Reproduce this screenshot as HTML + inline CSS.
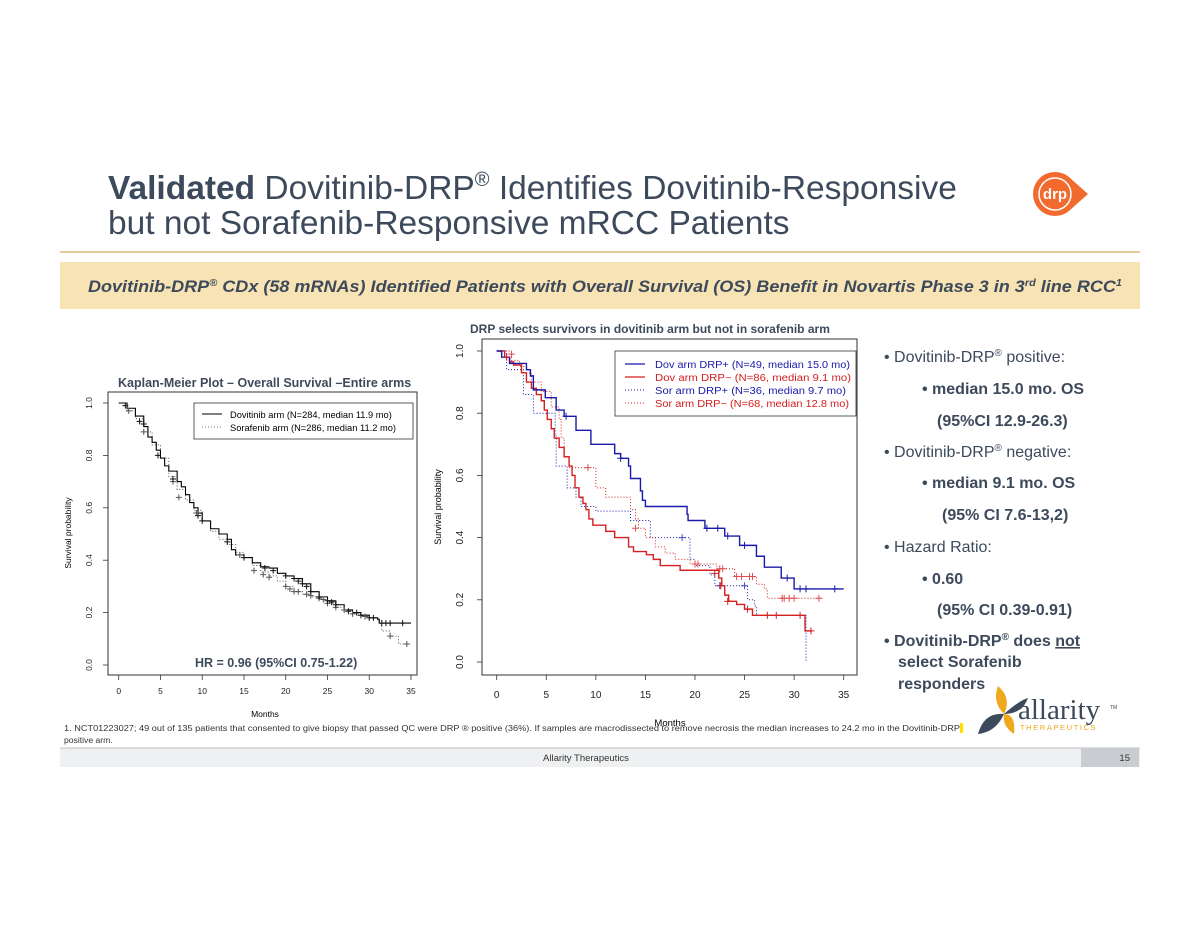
<!DOCTYPE html>
<html><head><meta charset="utf-8">
<style>
html,body{margin:0;padding:0;background:#fff;}
svg{display:block;font-family:"Liberation Sans",Arial,sans-serif;}
</style></head>
<body>
<svg id="page" width="1200" height="927" viewBox="0 0 1200 927" xmlns="http://www.w3.org/2000/svg">
  <g fill="#3d4a5c" font-size="33.5">
    <text x="108" y="199"><tspan font-weight="bold">Validated</tspan> Dovitinib-DRP<tspan font-size="20" dy="-13">®</tspan><tspan dy="13"> Identifies Dovitinib-Responsive</tspan></text>
    <text x="108" y="234">but not Sorafenib-Responsive mRCC Patients</text>
  </g>
  <g>
    <circle cx="1055" cy="194" r="22" fill="#f26a2e"/>
    <path d="M1070 178 L1088 194 L1070 210 Z" fill="#f26a2e"/>
    <circle cx="1055" cy="194" r="16" fill="none" stroke="#fff" stroke-width="1.5"/>
    <text x="1055" y="199" font-size="15" fill="#fff" text-anchor="middle" font-weight="bold">drp</text>
  </g>
  <line x1="60" y1="252" x2="1140" y2="252" stroke="#d9b87a" stroke-width="1.5"/>
  <rect x="60" y="262" width="1080" height="47" fill="#f8e3b5"/>
  <text x="88" y="292" font-size="16.5" font-weight="bold" font-style="italic" fill="#3d4a5c" textLength="1034" lengthAdjust="spacingAndGlyphs">Dovitinib-DRP<tspan font-size="10" dy="-6">®</tspan><tspan dy="6"> CDx (58 mRNAs) Identified Patients with Overall Survival (OS) Benefit in Novartis Phase 3 in 3</tspan><tspan font-size="10" dy="-6">rd</tspan><tspan dy="6"> line RCC</tspan><tspan font-size="10" dy="-6">1</tspan></text>

  <!-- Left chart -->
  <g id="left">
    <text x="118" y="387" font-size="12.5" font-weight="bold" fill="#3d4a5c">Kaplan-Meier Plot – Overall Survival –Entire arms</text>
    <rect x="108" y="392" width="309" height="283" fill="none" stroke="#333" stroke-width="1"/>
    <text transform="translate(71,533) rotate(-90)" font-size="8.5" text-anchor="middle">Survival probability</text>
    <text x="265" y="717" font-size="8.5" text-anchor="middle">Months</text>
    <g id="left-axes"></g>
    <g id="left-series"></g>
    <g>
      <rect x="194" y="403" width="219" height="36" fill="#fff" stroke="#333" stroke-width="0.8"/>
      <line x1="202" y1="414" x2="222" y2="414" stroke="#000"/>
      <line x1="202" y1="427" x2="222" y2="427" stroke="#777" stroke-dasharray="1,2"/>
      <text x="230" y="418" font-size="9.3">Dovitinib arm   (N=284, median 11.9 mo)</text>
      <text x="230" y="431" font-size="9.3">Sorafenib arm (N=286, median 11.2 mo)</text>
    </g>
    <text x="195" y="667" font-size="12.5" font-weight="bold" fill="#3d4a5c">HR = 0.96 (95%CI 0.75-1.22)</text>
  </g>

  <!-- Right chart -->
  <g id="right">
    <text x="470" y="333" font-size="12" font-weight="bold" fill="#3d4a5c">DRP selects survivors in dovitinib arm but not in sorafenib arm</text>
    <rect x="482" y="339" width="375" height="336" fill="none" stroke="#333" stroke-width="1"/>
    <text transform="translate(441,507) rotate(-90)" font-size="9" text-anchor="middle">Survival probability</text>
    <text x="670" y="726" font-size="9.5" text-anchor="middle">Months</text>
    <g id="right-axes"></g>
    <g id="right-series"></g>
    <g>
      <rect x="615" y="351" width="241" height="65" fill="#fff" stroke="#333" stroke-width="0.8"/>
      <line x1="625" y1="364" x2="645" y2="364" stroke="#1a1aaa" stroke-width="1.3"/>
      <line x1="625" y1="377" x2="645" y2="377" stroke="#d42020" stroke-width="1.3"/>
      <line x1="625" y1="390" x2="645" y2="390" stroke="#1a1aaa" stroke-dasharray="1,2"/>
      <line x1="625" y1="403" x2="645" y2="403" stroke="#d42020" stroke-dasharray="1,2"/>
      <text x="655" y="368" font-size="10" fill="#1a1aaa" textLength="195" lengthAdjust="spacingAndGlyphs">Dov arm DRP+ (N=49, median 15.0 mo)</text>
      <text x="655" y="381" font-size="10" fill="#d42020" textLength="196" lengthAdjust="spacingAndGlyphs">Dov arm DRP−  (N=86, median   9.1 mo)</text>
      <text x="655" y="394" font-size="10" fill="#1a1aaa" textLength="191" lengthAdjust="spacingAndGlyphs">Sor arm DRP+ (N=36, median   9.7 mo)</text>
      <text x="655" y="407" font-size="10" fill="#d42020" textLength="194" lengthAdjust="spacingAndGlyphs">Sor arm DRP−  (N=68, median 12.8 mo)</text>
    </g>
  </g>

  <g fill="#3d4a5c" font-size="16">
    <text x="884" y="362">• Dovitinib-DRP<tspan font-size="10" dy="-6">®</tspan><tspan dy="6"> positive:</tspan></text>
    <text x="922" y="394" font-weight="bold">• median 15.0 mo. OS</text>
    <text x="937" y="426" font-weight="bold">(95%CI 12.9-26.3)</text>
    <text x="884" y="457">• Dovitinib-DRP<tspan font-size="10" dy="-6">®</tspan><tspan dy="6"> negative:</tspan></text>
    <text x="922" y="488" font-weight="bold">•  median 9.1 mo. OS</text>
    <text x="942" y="520" font-weight="bold">(95% CI 7.6-13,2)</text>
    <text x="884" y="552">• Hazard Ratio:</text>
    <text x="922" y="584" font-weight="bold">• 0.60</text>
    <text x="937" y="615" font-weight="bold">(95% CI 0.39-0.91)</text>
    <text x="884" y="646" font-weight="bold">• Dovitinib-DRP<tspan font-size="10" dy="-6">®</tspan><tspan dy="6"> does </tspan><tspan text-decoration="underline">not</tspan></text>
    <text x="898" y="667" font-weight="bold">select Sorafenib</text>
    <text x="898" y="689" font-weight="bold">responders</text>
  </g>

  <g>
    <path d="M998 686 Q1012 698 1004 714 Q992 702 998 686Z" fill="#f0a81c"/>
    <path d="M1004 714 Q1016 714 1014 734 Q1002 726 1004 714Z" fill="#f0a81c"/>
    <path d="M1004 714 Q984 712 978 734 Q996 732 1004 714Z" fill="#3d4a5c"/>
    <path d="M1004 714 Q1020 700 1028 698 Q1022 714 1004 714Z" fill="#3d4a5c"/>
    <text x="1018" y="719" font-family="Liberation Serif,serif" font-size="29" fill="#3d4a5c">allarity</text>
    <text x="1110" y="709" font-size="5" fill="#3d4a5c">TM</text>
    <text x="1020" y="730" font-size="7.5" fill="#f0a81c" letter-spacing="1.6">THERAPEUTICS</text>
  </g>

  <g font-size="8.6" fill="#333">
    <text x="64" y="731" textLength="896" lengthAdjust="spacingAndGlyphs">1. NCT01223027; 49 out of 135 patients that consented to give biopsy that passed QC were DRP ® positive (36%). If samples are macrodissected to remove necrosis the median increases to 24.2 mo in the Dovitinib-DRP</text>
    <rect x="960" y="723" width="3" height="10" fill="#ffe000"/>
    <text x="64" y="743">positive arm.</text>
  </g>
  <g>
    <rect x="60" y="748" width="1080" height="19" fill="#eef0f2"/>
    <line x1="60" y1="748" x2="1140" y2="748" stroke="#888" stroke-width="0.6"/>
    <rect x="1081" y="748" width="58" height="19" fill="#c9cdd1"/>
    <text x="586" y="761" font-size="9.5" fill="#333" text-anchor="middle">Allarity Therapeutics</text>
    <text x="1130" y="761" font-size="9.5" fill="#333" text-anchor="end">15</text>
  </g>
</svg>
<script>
// ----- Left chart data -----
const leftXTicks = [0,5,10,15,20,25,30,35];
const leftYTicks = [0.0,0.2,0.4,0.6,0.8,1.0];
const dovTimes = [0,0.5,1,2,3,3.5,4,4.5,5,5.5,6,7,7.5,8,8.5,9,9.5,10,11,12,13,13.5,14,15,16,17,18,19,20,21,22,23,24,25,26,27,28,29,30,31,31.2];
const dovSurv  = [1.0,1.0,0.98,0.95,0.91,0.87,0.85,0.82,0.79,0.76,0.74,0.70,0.68,0.65,0.62,0.60,0.58,0.55,0.52,0.50,0.48,0.44,0.42,0.41,0.39,0.375,0.37,0.35,0.34,0.33,0.31,0.28,0.26,0.245,0.23,0.21,0.20,0.19,0.18,0.175,0.16];
const dovEnd = 35;
const sorTimes = [0,1,2,3,4,5,6,7,8,9,10,11,12,13,14,15,16,17,18,19,20,21,22,23,24,25,26,27,28,29,30,31,31.5,32.5,33.5];
const sorSurv  = [1.0,0.97,0.94,0.89,0.84,0.79,0.72,0.67,0.63,0.59,0.55,0.51,0.48,0.46,0.43,0.41,0.38,0.355,0.34,0.32,0.30,0.28,0.27,0.26,0.25,0.235,0.22,0.21,0.195,0.19,0.18,0.17,0.13,0.11,0.08];
const sorEnd = 35;
const dovCensT = [0.8,2.5,3,4.7,6.5,9.5,10,13,15,17.5,18.5,20,21,21.5,22,22.5,23,24,25,25.5,26,27.5,28.5,29,30,30.5,31.5,32,32.5,34];
const dovCensS = [0.99,0.93,0.92,0.80,0.71,0.57,0.55,0.47,0.41,0.37,0.36,0.34,0.33,0.32,0.31,0.30,0.28,0.26,0.245,0.24,0.23,0.205,0.20,0.19,0.18,0.18,0.16,0.16,0.16,0.16];
const sorCensT = [1.2,3,6.5,7.2,9.3,14.5,16.2,17.3,18,20,20.5,21,21.5,22.5,23,24,24.5,25,26,27,28,29.5,32.5,34.5];
const sorCensS = [0.97,0.89,0.70,0.64,0.58,0.42,0.36,0.345,0.335,0.30,0.29,0.28,0.28,0.27,0.265,0.255,0.25,0.235,0.22,0.21,0.195,0.185,0.11,0.08];

// ----- Right chart data -----
const rightXTicks = [0,5,10,15,20,25,30,35];
const rightYTicks = [0.0,0.2,0.4,0.6,0.8,1.0];
const dovPosT = [0,0.5,1.3,3.0,3.4,3.7,4.9,6.0,6.8,8.0,9.5,11.9,12.5,13.3,13.5,14.5,14.7,15.0,19.2,19.3,21.0,23.0,24.5,26.2,27.0,28.7,30.0];
const dovPosS = [1.0,0.98,0.96,0.94,0.92,0.875,0.85,0.81,0.79,0.745,0.70,0.67,0.655,0.63,0.59,0.55,0.52,0.50,0.475,0.455,0.43,0.405,0.375,0.34,0.305,0.27,0.235];
const dovPosEnd = 35;
const dovNegT = [0,0.8,1.3,1.7,2.5,3.0,3.5,4.0,4.5,4.8,5.1,5.5,5.8,6.3,6.8,7.3,7.6,7.9,8.3,8.7,9.0,9.3,9.7,11.0,11.9,13.3,13.8,15.1,15.8,16.5,18.5,22.4,22.7,23.0,23.4,24.2,25.0,25.8,31.1];
const dovNegS = [1.0,0.98,0.965,0.955,0.93,0.90,0.88,0.86,0.84,0.81,0.78,0.75,0.72,0.69,0.66,0.63,0.60,0.56,0.53,0.51,0.49,0.46,0.44,0.42,0.40,0.37,0.355,0.345,0.33,0.31,0.295,0.27,0.245,0.215,0.195,0.185,0.17,0.15,0.10];
const dovNegEnd = 31.8;
const sorPosT = [0,1.0,2.7,3.7,5.9,6.0,7.1,8.0,8.5,10.0,13.5,15.5,19.5,20.0,21.5,22.0,25.3,26.0,26.2,31.2];
const sorPosS = [1.0,0.94,0.86,0.80,0.73,0.63,0.56,0.53,0.50,0.485,0.455,0.40,0.33,0.31,0.28,0.245,0.20,0.18,0.15,0.0];
const sorPosEnd = 31.2;
const sorNegT = [0,1.5,2.3,3.0,3.5,4.5,5.5,6.3,6.5,6.8,7.3,10.0,11.0,13.5,14.0,14.3,15.0,16.0,17.0,18.0,19.5,22.2,24.0,26.2,27.0,27.3];
const sorNegS = [1.0,0.97,0.95,0.93,0.90,0.87,0.82,0.78,0.72,0.66,0.625,0.56,0.53,0.49,0.46,0.43,0.40,0.37,0.35,0.33,0.315,0.30,0.275,0.25,0.235,0.205];
const sorNegEnd = 32.7;
const dovPosCensT = [7.0,12.5,21.2,22.3,23.3,25.0,29.3,30.6,31.2,34.1];
const dovPosCensS = [0.79,0.655,0.43,0.43,0.405,0.375,0.27,0.235,0.235,0.235];
const dovNegCensT = [1.0,22.0,22.6,23.3,25.3,27.3,28.2,30.6,31.7];
const dovNegCensS = [0.98,0.285,0.245,0.195,0.17,0.15,0.15,0.15,0.10];
const sorPosCensT = [18.7,22.5,25.0];
const sorPosCensS = [0.40,0.245,0.245];
const sorNegCensT = [1.5,9.2,14.0,20.0,20.3,22.5,22.8,24.2,24.7,25.5,25.8,28.8,29.0,29.5,30.0,32.5];
const sorNegCensS = [0.99,0.625,0.43,0.315,0.315,0.30,0.30,0.275,0.275,0.275,0.275,0.205,0.205,0.205,0.205,0.205];

const NS = 'http://www.w3.org/2000/svg';
function mk(tag, attrs, parent){
  const e = document.createElementNS(NS, tag);
  for (const k in attrs) e.setAttribute(k, attrs[k]);
  parent.appendChild(e);
  return e;
}
function makeScale(d0,d1,r0,r1){ return v => r0 + (v-d0)/(d1-d0)*(r1-r0); }

function drawAxes(g, xs, ys, xTicks, yTicks, x0, y0, fs, xTickY, yLabelX){
  const xl = mk('line',{x1:xs(xTicks[0]),x2:xs(xTicks[xTicks.length-1]),y1:y0,y2:y0,stroke:'#333','stroke-width':0.8},g);
  
  
  xTicks.forEach(t=>{
    const tk = mk('line',{x1:xs(t),x2:xs(t),y1:y0,y2:y0+5,stroke:'#333','stroke-width':0.8},g);
    
    
    const tx = mk('text',{x:xs(t),y:xTickY,'font-size':fs,'text-anchor':'middle',fill:'#222'},g);
    tx.textContent = String(t);
    
    
  });
  const yl = mk('line',{x1:x0,x2:x0,y1:ys(yTicks[0]),y2:ys(yTicks[yTicks.length-1]),stroke:'#333','stroke-width':0.8},g);
  
  
  yTicks.forEach(t=>{
    const tk = mk('line',{x1:x0-5,x2:x0,y1:ys(t),y2:ys(t),stroke:'#333','stroke-width':0.8},g);
    
    
    const tx = mk('text',{x:yLabelX,y:ys(t),'font-size':fs,'text-anchor':'middle',fill:'#222',transform:`rotate(-90 ${yLabelX} ${ys(t)})`},g);
    tx.textContent = t.toFixed(1);
    
    
  });
}
function stepPath(xs, ys, T, S, end){
  let d = `M${xs(T[0])},${ys(S[0])}`;
  for (let i=1;i<T.length;i++) d += ` H${xs(T[i])} V${ys(S[i])}`;
  d += ` H${xs(end)}`;
  return d;
}
function drawStep(g, xs, ys, T, S, end, color, dashed, w, name){
  const p = mk('path',{d:stepPath(xs,ys,T,S,end),fill:'none',stroke:color,'stroke-width':w},g);
  if (dashed) p.setAttribute('stroke-dasharray','1,2');
  
  
}
function drawCens(g, xs, ys, T, S, color, sz, name){
  T.forEach((t,i)=>{
    const x = xs(t), y = ys(S[i]);
    const p = mk('path',{d:`M${x-sz},${y} H${x+sz} M${x},${y-sz} V${y+sz}`,stroke:color,'stroke-width':1,fill:'none'},g);
    
    
  });
}

// Left
const lx = makeScale(0,35,118.7,411);
const ly = makeScale(0,1,665,403);
drawAxes(document.getElementById('left-axes'), lx, ly, leftXTicks, leftYTicks, 108, 675, 8.5, 694, 92);
const lg = document.getElementById('left-series');
drawStep(lg, lx, ly, sorTimes, sorSurv, sorEnd, '#555', true, 1, 'sorafenib-arm-curve');
drawStep(lg, lx, ly, dovTimes, dovSurv, dovEnd, '#000', false, 1.1, 'dovitinib-arm-curve');
drawCens(lg, lx, ly, sorCensT, sorCensS, '#555', 3, 'sorafenib-censor-mark');
drawCens(lg, lx, ly, dovCensT, dovCensS, '#111', 3, 'dovitinib-censor-mark');

// Right
const rx = makeScale(0,35,496.7,843.7);
const ry = makeScale(0,1,662,351);
drawAxes(document.getElementById('right-axes'), rx, ry, rightXTicks, rightYTicks, 482, 675, 10, 698, 463);
const rg = document.getElementById('right-series');
drawStep(rg, rx, ry, sorPosT, sorPosS, sorPosEnd, '#1a1aaa', true, 1, 'sor-drp-pos-curve');
drawStep(rg, rx, ry, sorNegT, sorNegS, sorNegEnd, '#d42020', true, 1, 'sor-drp-neg-curve');
drawStep(rg, rx, ry, dovNegT, dovNegS, dovNegEnd, '#d42020', false, 1.4, 'dov-drp-neg-curve');
drawStep(rg, rx, ry, dovPosT, dovPosS, dovPosEnd, '#1a1aaa', false, 1.4, 'dov-drp-pos-curve');
drawCens(rg, rx, ry, sorPosCensT, sorPosCensS, '#4a4acc', 3.5, 'sor-drp-pos-censor');
drawCens(rg, rx, ry, sorNegCensT, sorNegCensS, '#e05050', 3.5, 'sor-drp-neg-censor');
drawCens(rg, rx, ry, dovNegCensT, dovNegCensS, '#d42020', 3.5, 'dov-drp-neg-censor');
drawCens(rg, rx, ry, dovPosCensT, dovPosCensS, '#1a1aaa', 3.5, 'dov-drp-pos-censor');
</script>
</body></html>
